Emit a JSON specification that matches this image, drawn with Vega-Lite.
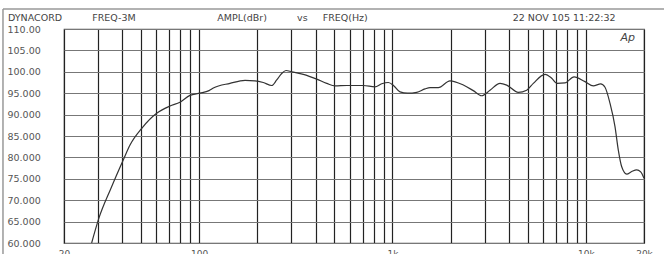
{
  "$schema": "https://vega.github.io/schema/vega-lite/v6.json",
  "width": 580,
  "height": 214,
  "autosize": "none",
  "padding": {"left": 64, "top": 29, "right": 20, "bottom": 11},
  "background": "white",
  "config": {
    "font": "DejaVu Sans",
    "view": {"stroke": "#555", "strokeWidth": 1.2}
  },
  "title": {
    "text": "DYNACORD\u00a0\u00a0\u00a0\u00a0\u00a0\u00a0\u00a0\u00a0\u00a0\u00a0FREQ-3M\u00a0\u00a0\u00a0\u00a0\u00a0\u00a0\u00a0\u00a0\u00a0\u00a0\u00a0\u00a0\u00a0\u00a0\u00a0\u00a0\u00a0\u00a0\u00a0\u00a0\u00a0\u00a0\u00a0\u00a0\u00a0\u00a0\u00a0AMPL(dBr)\u00a0\u00a0\u00a0\u00a0\u00a0\u00a0\u00a0\u00a0\u00a0\u00a0vs\u00a0\u00a0\u00a0\u00a0\u00a0FREQ(Hz)\u00a0\u00a0\u00a0\u00a0\u00a0\u00a0\u00a0\u00a0\u00a0\u00a0\u00a0\u00a0\u00a0\u00a0\u00a0\u00a0\u00a0\u00a0\u00a0\u00a0\u00a0\u00a0\u00a0\u00a0\u00a0\u00a0\u00a0\u00a0\u00a0\u00a0\u00a0\u00a0\u00a0\u00a0\u00a0\u00a0\u00a0\u00a0\u00a0\u00a0\u00a0\u00a0\u00a0\u00a0\u00a0\u00a0\u00a0\u00a022\u00a0NOV\u00a0105\u00a011:22:32",
    "anchor": "start",
    "frame": "group",
    "dx": -56,
    "offset": -22,
    "baseline": "alphabetic",
    "fontSize": 9.5,
    "fontWeight": "normal",
    "color": "#444",
    "font": "DejaVu Sans"
  },
  "resolve": {"axis": {"x": "independent", "y": "independent"}},
  "data": {
    "values": [
      {"f": 27.8, "db": 60.0},
      {"f": 30.3, "db": 65.8},
      {"f": 35.0, "db": 72.8},
      {"f": 40.5, "db": 79.4},
      {"f": 43.9, "db": 82.9},
      {"f": 50.5, "db": 86.8},
      {"f": 60.3, "db": 90.3},
      {"f": 70.7, "db": 92.0},
      {"f": 79.6, "db": 92.9},
      {"f": 89.7, "db": 94.5},
      {"f": 101, "db": 95.0},
      {"f": 112.5, "db": 95.6},
      {"f": 118.4, "db": 96.2},
      {"f": 144.4, "db": 97.3},
      {"f": 172.7, "db": 98.0},
      {"f": 194.5, "db": 97.9},
      {"f": 214.7, "db": 97.5},
      {"f": 237.4, "db": 96.8},
      {"f": 252, "db": 98.1},
      {"f": 267.4, "db": 99.6},
      {"f": 281.4, "db": 100.3},
      {"f": 301.2, "db": 100.0},
      {"f": 345.8, "db": 99.4},
      {"f": 405.6, "db": 98.3},
      {"f": 457, "db": 97.3},
      {"f": 504.6, "db": 96.7},
      {"f": 580, "db": 96.8},
      {"f": 706.7, "db": 96.8},
      {"f": 812, "db": 96.5},
      {"f": 880, "db": 97.2},
      {"f": 951.8, "db": 97.5},
      {"f": 1018, "db": 96.7},
      {"f": 1094, "db": 95.3},
      {"f": 1197, "db": 95.0},
      {"f": 1335, "db": 95.2},
      {"f": 1474, "db": 96.0},
      {"f": 1564, "db": 96.3},
      {"f": 1727, "db": 96.3},
      {"f": 1984, "db": 97.9},
      {"f": 2326, "db": 96.9},
      {"f": 2618, "db": 95.6},
      {"f": 2894, "db": 94.4},
      {"f": 3195, "db": 95.7},
      {"f": 3600, "db": 97.3},
      {"f": 3900, "db": 96.9},
      {"f": 4476, "db": 95.2},
      {"f": 4947, "db": 95.7},
      {"f": 5352, "db": 97.3},
      {"f": 6152, "db": 99.4},
      {"f": 6664, "db": 98.5},
      {"f": 7096, "db": 97.3},
      {"f": 7808, "db": 97.4},
      {"f": 8690, "db": 98.8},
      {"f": 9906, "db": 97.7},
      {"f": 10937, "db": 96.7},
      {"f": 11944, "db": 97.2},
      {"f": 12572, "db": 96.4},
      {"f": 13346, "db": 92.6},
      {"f": 14158, "db": 87.2},
      {"f": 14728, "db": 81.7},
      {"f": 15338, "db": 77.8},
      {"f": 16282, "db": 76.1},
      {"f": 17281, "db": 76.7},
      {"f": 18340, "db": 77.1},
      {"f": 19232, "db": 76.6},
      {"f": 20000, "db": 75.1}
    ]
  },
  "layer": [
    {
      "mark": {"type": "line", "color": "#333", "strokeWidth": 1.2, "interpolate": "monotone", "clip": true},
      "encoding": {
        "x": {
          "field": "f",
          "type": "quantitative",
          "scale": {"type": "log", "domain": [20, 20000], "nice": false},
          "axis": {
            "title": null,
            "values": [20, 30, 40, 50, 60, 70, 80, 90, 100, 200, 300, 400, 500, 600, 700, 800, 900, 1000, 2000, 3000, 4000, 5000, 6000, 7000, 8000, 9000, 10000, 20000],
            "labelExpr": "datum.value == 20 ? '20' : datum.value == 100 ? '100' : datum.value == 1000 ? '1k' : datum.value == 10000 ? '10k' : datum.value == 20000 ? '20k' : ''",
            "grid": true,
            "gridColor": "#222",
            "gridWidth": 1.2,
            "gridOpacity": 1,
            "domain": false,
            "ticks": false,
            "labelPadding": 6,
            "labelBaseline": "top",
            "labelFontSize": 9,
            "labelColor": "#555",
            "labelFlush": false,
            "labelOverlap": false
          }
        },
        "y": {
          "field": "db",
          "type": "quantitative",
          "scale": {"domain": [60, 110], "nice": false, "zero": false},
          "axis": {
            "title": null,
            "values": [60, 65, 70, 75, 80, 85, 90, 95, 100, 105, 110],
            "labelExpr": "datum.value >= 100 ? format(datum.value, '.2f') : format(datum.value, '.3f')",
            "grid": true,
            "gridColor": "#777",
            "gridWidth": 1.1,
            "gridOpacity": 1,
            "domain": false,
            "ticks": false,
            "labelAlign": "left",
            "labelPadding": 57,
            "labelFontSize": 9.5,
            "labelColor": "#555",
            "labelFlush": false,
            "labelOverlap": false
          }
        }
      }
    },
    {
      "data": {"values": [{"logo": "Ap"}]},
      "mark": {"type": "text", "align": "right", "baseline": "top", "dx": -9, "dy": 3, "fontSize": 11, "fontStyle": "italic", "color": "#444"},
      "encoding": {
        "x": {"datum": 20000, "type": "quantitative", "axis": null},
        "y": {"datum": 110, "type": "quantitative", "axis": null},
        "text": {"field": "logo"}
      }
    },
    {
      "data": {"values": [{"edge": "top"}]},
      "mark": {"type": "rule", "color": "#999", "strokeWidth": 1.5, "clip": false},
      "encoding": {
        "x": {"datum": 9.67, "type": "quantitative", "axis": null},
        "x2": {"datum": 30000},
        "y": {"datum": 114.7, "type": "quantitative", "axis": null}
      }
    },
    {
      "data": {"values": [{"edge": "left"}]},
      "mark": {"type": "rule", "color": "#999", "strokeWidth": 1.5, "clip": false},
      "encoding": {
        "x": {"datum": 9.67, "type": "quantitative", "axis": null},
        "y": {"datum": 114.7, "type": "quantitative", "axis": null},
        "y2": {"datum": 50}
      }
    }
  ]
}
